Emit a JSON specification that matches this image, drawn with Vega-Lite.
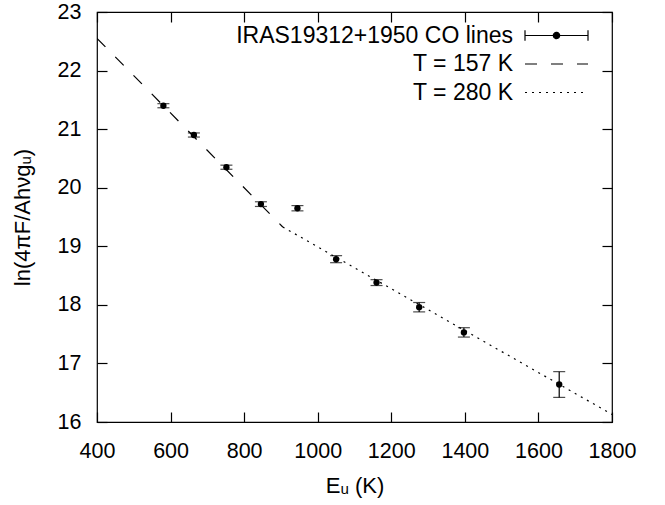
{
  "$schema": "https://vega.github.io/schema/vega-lite/v6.json",
  "width": 515,
  "height": 410,
  "autosize": "none",
  "padding": {"left": 97, "top": 12, "right": 53, "bottom": 83},
  "background": "white",
  "config": {
    "font": "Liberation Sans",
    "view": {"stroke": "#000", "strokeWidth": 1.2},
    "axis": {
      "grid": false,
      "domain": false,
      "tickColor": "#000",
      "tickSize": -10,
      "tickWidth": 1.2,
      "labelColor": "#000",
      "titleColor": "#000",
      "labelFontSize": 21.5,
      "titleFontSize": 22,
      "titleFontWeight": "normal",
      "labelFont": "Liberation Sans",
      "titleFont": "Liberation Sans",
      "labelOverlap": false,
      "labelFlush": false,
      "format": "d"
    }
  },
  "datasets": {
    "pts": [
      {"E": 580.5, "v": 21.40, "err": 0.035},
      {"E": 663.4, "v": 20.90, "err": 0.035},
      {"E": 751.8, "v": 20.35, "err": 0.035},
      {"E": 845.6, "v": 19.72, "err": 0.04},
      {"E": 944.9, "v": 19.65, "err": 0.045},
      {"E": 1050.0, "v": 18.78, "err": 0.06},
      {"E": 1159.9, "v": 18.38, "err": 0.05},
      {"E": 1275.8, "v": 17.96, "err": 0.08},
      {"E": 1397.4, "v": 17.53, "err": 0.08},
      {"E": 1656.5, "v": 16.64, "err": 0.22}
    ],
    "fits": [
      {"E": 400, "v": 22.55, "series": "T = 157 K"},
      {"E": 905, "v": 19.33, "series": "T = 157 K"},
      {"E": 905, "v": 19.33, "series": "T = 280 K"},
      {"E": 1800, "v": 16.13, "series": "T = 280 K"}
    ]
  },
  "layer": [
    {
      "data": {"name": "fits"},
      "mark": {"type": "line", "color": "#000", "strokeWidth": 1.2, "clip": true},
      "encoding": {
        "x": {
          "field": "E", "type": "quantitative",
          "scale": {"domain": [400, 1800], "nice": false, "zero": false},
          "axis": {
            "orient": "bottom",
            "values": [400, 600, 800, 1000, 1200, 1400, 1600, 1800],
            "labelPadding": 28,
            "labelOverlap": false,
            "labelFlush": false,
            "format": "d",
            "title": "Eᵤ (K)",
            "titlePadding": 14
          }
        },
        "y": {
          "field": "v", "type": "quantitative",
          "scale": {"domain": [16, 23], "nice": false, "zero": false},
          "axis": {
            "orient": "left",
            "values": [16, 17, 18, 19, 20, 21, 22, 23],
            "labelPadding": 26,
            "labelOverlap": false,
            "labelFlush": false,
            "format": "d",
            "title": "ln(4πF/Ahνgᵤ)",
            "titlePadding": 23
          }
        },
        "detail": {"field": "series"},
        "strokeDash": {
          "field": "series", "type": "nominal",
          "scale": {
            "domain": ["IRAS19312+1950 CO lines", "T = 157 K", "T = 280 K"],
            "range": [[1, 0], [12, 14], [2, 5]]
          },
          "legend": {
            "title": null,
            "orient": "none",
            "legendX": 427,
            "legendY": 10,
            "padding": 0,
            "offset": 0,
            "symbolSize": 3969,
            "symbolStrokeWidth": 1.2,
            "symbolStrokeColor": "#000",
            "clipHeight": 27,
            "rowPadding": 1.5,
            "labelAlign": "right",
            "labelOffset": -76,
            "labelFontSize": 23,
            "labelFont": "Liberation Sans",
            "labelColor": "#000",
            "labelLimit": 400,
            "encode": {
              "entries": {
                "update": {"width": {"value": 100}}
              },
              "symbols": {
                "update": {
                  "shape": {"signal": "datum.value === 'IRAS19312+1950 CO lines' ? 'M-1,0H1M-1,-0.17V0.17M1,-0.17V0.17M0.1,0A0.1,0.1,0,1,1,-0.1,0A0.1,0.1,0,1,1,0.1,0' : 'stroke'"},
                  "fill": {"signal": "datum.value === 'IRAS19312+1950 CO lines' ? '#000' : 'transparent'"},
                  "stroke": {"value": "#000"}
                }
              }
            }
          }
        }
      }
    },
    {
      "data": {"name": "pts"},
      "mark": {"type": "errorbar", "color": "#000", "thickness": 1.2, "ticks": {"size": 12, "thickness": 1.2, "color": "#000"}},
      "encoding": {
        "x": {"field": "E", "type": "quantitative", "axis": {"orient": "top", "labels": false, "title": null, "values": [400, 600, 800, 1000, 1200, 1400, 1600, 1800]}},
        "y": {"field": "v", "type": "quantitative", "axis": {"orient": "right", "labels": false, "title": null, "values": [16, 17, 18, 19, 20, 21, 22, 23]}},
        "yError": {"field": "err"}
      }
    },
    {
      "data": {"name": "pts"},
      "mark": {"type": "point", "filled": true, "color": "#000", "size": 40, "opacity": 1},
      "encoding": {
        "x": {"field": "E", "type": "quantitative", "axis": null},
        "y": {"field": "v", "type": "quantitative", "axis": null}
      }
    }
  ]
}
